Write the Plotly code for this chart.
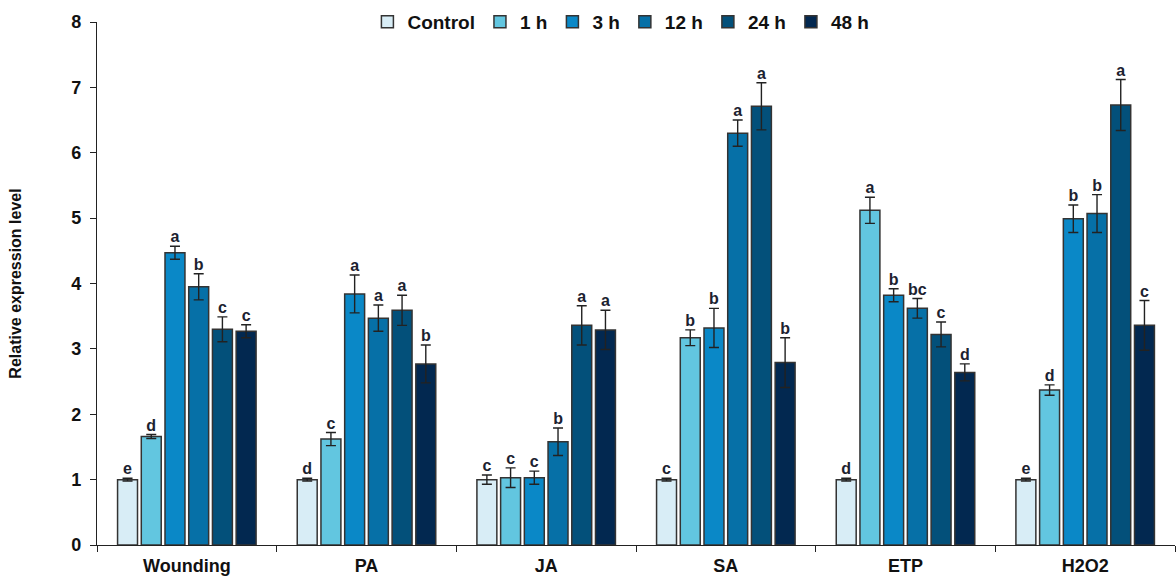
import plotly.graph_objects as go

categories = ["Wounding", "PA", "JA", "SA", "ETP", "H2O2"]
series = ["Control", "1 h", "3 h", "12 h", "24 h", "48 h"]
colors = ["#d8edf6", "#62c6e0", "#0a88c7", "#0670a7", "#03507a", "#022850"]

# values[series][category]
values = {
    "Control": [1.00, 1.00, 1.00, 1.00, 1.00, 1.00],
    "1 h":     [1.66, 1.62, 1.03, 3.17, 5.12, 2.37],
    "3 h":     [4.47, 3.84, 1.03, 3.32, 3.82, 4.99],
    "12 h":    [3.95, 3.47, 1.58, 6.30, 3.62, 5.07],
    "24 h":    [3.30, 3.59, 3.36, 6.71, 3.22, 6.73],
    "48 h":    [3.27, 2.77, 3.29, 2.79, 2.64, 3.36],
}
errors = {
    "Control": [0.02, 0.02, 0.07, 0.02, 0.02, 0.02],
    "1 h":     [0.03, 0.10, 0.15, 0.12, 0.20, 0.08],
    "3 h":     [0.10, 0.29, 0.10, 0.30, 0.10, 0.21],
    "12 h":    [0.20, 0.20, 0.21, 0.20, 0.15, 0.29],
    "24 h":    [0.19, 0.23, 0.30, 0.36, 0.19, 0.39],
    "48 h":    [0.10, 0.29, 0.30, 0.38, 0.13, 0.38],
}
letters = {
    "Control": ["e", "d", "c", "c", "d", "e"],
    "1 h":     ["d", "c", "c", "b", "a", "d"],
    "3 h":     ["a", "a", "c", "b", "b", "b"],
    "12 h":    ["b", "a", "b", "a", "bc", "b"],
    "24 h":    ["c", "a", "a", "a", "c", "a"],
    "48 h":    ["c", "b", "a", "b", "d", "c"],
}
yticks = [0, 1, 2, 3, 4, 5, 6, 7, 8]

pitch = 0.132
bar_w = 0.111
n = len(series)

fig = go.Figure()
for j, s in enumerate(series):
    xs = [i + (j - (n - 1) / 2) * pitch for i in range(len(categories))]
    fig.add_trace(go.Bar(
        x=xs, y=values[s], width=bar_w, name=s,
        marker=dict(color=colors[j], line=dict(color="#333333", width=1.5)),
        error_y=dict(type="data", array=errors[s], visible=True,
                     color="#222222", thickness=1.4, width=5),
    ))
for j, s in enumerate(series):
    xs = [i + (j - (n - 1) / 2) * pitch for i in range(len(categories))]
    tops = [v + e for v, e in zip(values[s], errors[s])]
    fig.add_trace(go.Scatter(
        x=xs, y=tops, mode="text", text=letters[s], textposition="top center",
        textfont=dict(family="Arial, Liberation Sans", size=16, color="#1c2230", weight="bold"),
        showlegend=False, hoverinfo="skip", cliponaxis=False,
    ))

fig.update_layout(
    width=1176, height=583,
    margin=dict(l=97, r=1, t=22, b=38, autoexpand=False),
    paper_bgcolor="white", plot_bgcolor="white",
    font=dict(family="Arial, Liberation Sans", color="#111111"),
    barmode="overlay",
    legend=dict(orientation="h", x=0.486, xanchor="center", y=1.0, yanchor="middle",
                font=dict(size=19, family="Arial, Liberation Sans", color="#111111", weight="bold"),
                itemwidth=30, bgcolor="rgba(0,0,0,0)", traceorder="normal"),
    showlegend=True,
)
fig.update_xaxes(
    range=[-0.5, 5.5], tickvals=list(range(len(categories))), ticktext=categories,
    ticks="", showline=True, linecolor="#222222", linewidth=1.3,
    tickfont=dict(size=18, family="Arial, Liberation Sans", color="#111111", weight="bold"),
    ticklabelstandoff=4,
    minor=dict(tick0=0.5, dtick=1, ticks="outside", ticklen=6, tickcolor="#222222", tickwidth=1.3),
    showgrid=False, zeroline=False,
)
fig.update_yaxes(
    range=[0, 8], tickvals=yticks, ticks="outside", ticklen=6, tickcolor="#222222",
    tickwidth=1.3, showline=True, linecolor="#222222", linewidth=1.3,
    ticklabelstandoff=5,
    tickfont=dict(size=18, family="Arial, Liberation Sans", color="#111111", weight="bold"),
    title=dict(text="Relative expression level", standoff=45,
               font=dict(size=16, family="Arial, Liberation Sans", color="#111111", weight="bold")),
    showgrid=False, zeroline=False,
)
fig.write_html("out.html", config={"displayModeBar": False},
               post_script="document.body.style.margin='0';")
